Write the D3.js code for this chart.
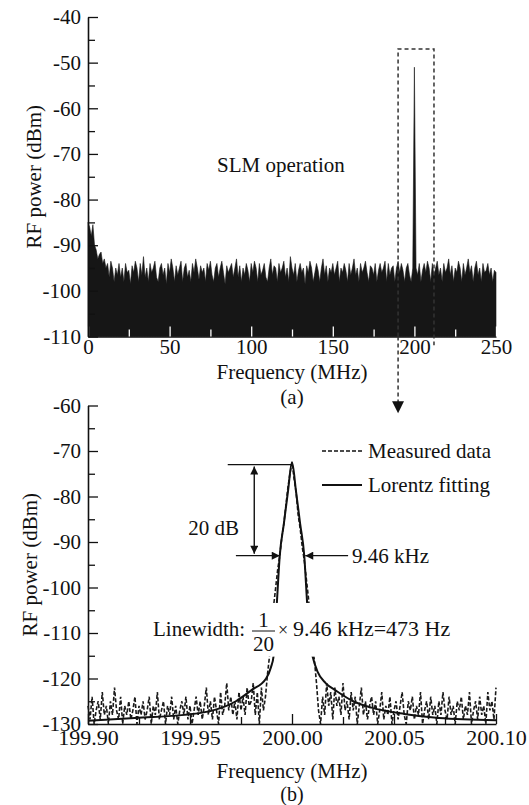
<!DOCTYPE html>
<html>
<head>
<meta charset="utf-8">
<script src="https://cdn.jsdelivr.net/npm/d3@7/dist/d3.min.js"></script>
<style>
body { margin: 0; background: #fff; }
</style>
</head>
<body>
<div id="figure"></div>
<script>
//----------------------------------------------------------------
// (a) spectre large 0-250 MHz, un point par MHz (enveloppe haute)
//----------------------------------------------------------------
var wideStart = 0, wideStep = 1;
var widePower = [
    -85,-86,-88,-85.5,-90,-91,-93,-92,-91.5,-94,
    -93,-95,-94,-97,-93.5,-95,-98,-95,-96.5,-94,
    -97,-95,-98,-94,-96,-95.5,-98.5,-94.5,-96,-93.5,
    -95,-98,-94,-96.5,-92.5,-97,-95,-98,-94,-96,
    -95,-93.5,-97,-98,-95,-94,-96.5,-95,-98.5,-94,
    -96,-93,-95,-98,-94.5,-96.5,-95,-93.5,-98,-95,
    -94,-97,-95.5,-98,-94,-96,-93,-95,-97.5,-94.5,
    -96,-95,-98,-94,-95.5,-93.5,-96.5,-98,-95,-94,
    -97,-95,-93.5,-96,-98.5,-94.5,-96,-95,-94,-97,
    -95,-93,-97,-94.5,-98,-95,-96.5,-94,-95.5,-98,
    -94,-96,-93.5,-95,-98,-94,-96.5,-95.5,-94,-97,
    -98,-95,-93,-96.5,-94.5,-95,-98,-94,-96,-95,
    -93.5,-97,-95,-98,-92.5,-95,-96.5,-94,-98,-95.5,
    -94,-96,-95,-98.5,-94.5,-96,-93.5,-95,-98,-96,
    -94,-95.5,-98,-95,-93,-96.5,-94.5,-98,-95,-96,
    -94,-96.5,-95,-93.5,-98,-95,-96,-94,-95.5,-98,
    -94,-96.5,-95,-93,-96.5,-95,-98,-94,-96,-95,
    -93.5,-96,-98,-94.5,-95,-96.5,-94,-98,-95.5,-94,
    -96,-95,-93.5,-98,-94,-96.5,-95,-94.5,-98,-95,
    -93.5,-96,-94,-95.5,-98,-95,-94,-96.5,-98,-95,
    -51,-95,-96.5,-94,-98,-95.5,-94,-96,-93.5,-95,
    -98,-94,-96.5,-95,-93.5,-96.5,-95,-98,-94,-96,
    -95,-93,-96.5,-94.5,-98,-95,-96,-93.5,-95,-98,
    -94,-96.5,-95,-93,-96,-94.5,-98,-95,-93.5,-96.5,
    -95,-98,-94,-96,-95.5,-94,-96.5,-95,-98,-95.5,
    -96
];
var wideFloor = -110;
var wideXTicks = [0, 50, 100, 150, 200, 250];
var wideXMinor = [25, 75, 125, 175, 225];
var wideYTicks = [-110, -100, -90, -80, -70, -60, -50, -40];
var wideYMinor = [-105, -95, -85, -75, -65, -55, -45];

//----------------------------------------------------------------
// (b) zoom autour de 200 MHz, un point par kHz
//----------------------------------------------------------------
var zoomStart = 199.9, zoomStep = 0.001;
var measuredPower = [
    -126,-129,-124,-130,-127,-125,-129,-123,-128,-126,
    -130,-125,-128,-122,-127,-129,-124,-130,-126,-128,
    -125,-129,-127,-124,-130,-126,-128,-125,-129,-127,
    -124,-130,-126,-128,-123,-129,-127,-125,-130,-126,
    -128,-124,-129,-126,-130,-127,-125,-128,-124,-129,
    -126,-130,-127,-124,-128,-125,-129,-126,-122,-128,
    -125,-129,-124,-127,-130,-123,-128,-126,-121,-127,
    -124,-128,-125,-129,-123,-127,-124,-128,-122,-126,
    -125,-121,-128,-123,-130,-122,-127,-124,-119,-115,
    -110,-104,-100,-96,-93,-89,-86,-82,-78,-75,
    -72.5,-76,-79,-84,-87,-91,-94,-98,-102,-107,
    -113,-116,-121,-127,-130,-124,-128,-121,-126,-123,
    -129,-122,-126,-124,-128,-121,-127,-125,-129,-123,
    -127,-124,-130,-126,-122,-128,-125,-129,-126,-124,
    -128,-125,-130,-127,-123,-129,-126,-128,-124,-130,
    -127,-125,-129,-126,-123,-128,-130,-125,-127,-124,
    -129,-126,-128,-123,-130,-127,-125,-129,-124,-128,
    -126,-130,-125,-128,-123,-127,-129,-124,-128,-126,
    -130,-125,-127,-124,-129,-126,-128,-123,-130,-127,
    -125,-129,-124,-128,-126,-130,-123,-127,-125,-129,
    -122
];
var fitFreq = [199.900, 199.923, 199.956, 199.9725, 199.980, 199.9873, 199.9897, 199.9910,
               199.9925, 199.994, 199.996, 199.998, 200.000, 200.002, 200.004, 200.006,
               200.0075, 200.0090, 200.0100, 200.0125, 200.0165, 200.022, 200.030, 200.039,
               200.055, 200.072, 200.100];
var fitPower = [-129.3, -128.7, -127.5, -125, -122.6, -120, -117.5, -115,
                -104, -93, -86, -79, -72.5, -79, -86, -93,
                -104, -113, -115, -118.5, -121, -122.8, -125, -126.4,
                -127.8, -128.7, -129.2];
var zoomXTicks = [199.90, 199.95, 200.00, 200.05, 200.10];
var zoomXMinor = [199.925, 199.975, 200.025, 200.075];
var zoomYTicks = [-130, -120, -110, -100, -90, -80, -70, -60];
var zoomYMinor = [-125, -115, -105, -95, -85, -75, -65];
var legendLabels = ["Measured data", "Lorentz fitting"];

var ink = "#111";
var serif = "'Liberation Serif', 'Times New Roman', Times, serif";

var svg = d3.select("#figure").append("svg")
    .attr("width", 529)
    .attr("height", 805)
    .style("font-family", serif);

// échelles
var xWide = d3.scaleLinear().domain([0, 250]).range([88, 496]);
var yWide = d3.scaleLinear().domain([-110, -40]).range([336.5, 17]);
var xZoom = d3.scaleLinear().domain([199.9, 200.1]).range([88, 496]);
var yZoom = d3.scaleLinear().domain([-130, -60]).range([724, 405.5]);

// formats avec un tiret simple, comme l'original
var fmtEntier = function(d) { return String(d); };
var fmtMHz = function(d) { return d.toFixed(2); };

// flèches
var defs = svg.append("defs");
defs.append("marker")
    .attr("id", "fleche")
    .attr("viewBox", "0 0 10 10")
    .attr("refX", 10).attr("refY", 5)
    .attr("markerUnits", "userSpaceOnUse")
    .attr("markerWidth", 11).attr("markerHeight", 8)
    .attr("orient", "auto-start-reverse")
    .append("path").attr("d", "M0,0L10,5L0,10z").attr("fill", ink);
defs.append("marker")
    .attr("id", "grosseFleche")
    .attr("viewBox", "0 0 10 10")
    .attr("refX", 10).attr("refY", 5)
    .attr("markerUnits", "userSpaceOnUse")
    .attr("markerWidth", 16).attr("markerHeight", 12)
    .attr("orient", "auto")
    .append("path").attr("d", "M0,0L10,5L0,10z").attr("fill", ink);

//----------------------------------------------------------------
// axes avec graduations vers l'intérieur
//----------------------------------------------------------------
function axeX(x, y, ticks, minor, fmt, size, pad, tickColour) {
    var g = svg.append("g").attr("transform", "translate(0," + y.range()[0] + ")");
    g.call(d3.axisBottom(x).tickValues(ticks).tickSizeInner(-10).tickSizeOuter(0)
        .tickPadding(pad).tickFormat(fmt));
    g.append("g")
        .call(d3.axisBottom(x).tickValues(minor).tickSizeInner(-7).tickSizeOuter(0).tickFormat(""))
        .select(".domain").remove();
    g.attr("font-family", null).attr("font-size", null);
    g.selectAll(".tick line").attr("stroke", tickColour).attr("stroke-width", 1.3);
    g.selectAll(".domain").attr("stroke", ink).attr("stroke-width", 1.6);
    g.selectAll("text").style("font-size", size + "px").attr("fill", ink);
}

function axeY(x, y, ticks, minor) {
    var g = svg.append("g").attr("transform", "translate(" + x.range()[0] + ",0)");
    g.call(d3.axisLeft(y).tickValues(ticks).tickSizeInner(-10).tickSizeOuter(0)
        .tickPadding(7).tickFormat(fmtEntier));
    g.append("g")
        .call(d3.axisLeft(y).tickValues(minor).tickSizeInner(-7).tickSizeOuter(0).tickFormat(""))
        .select(".domain").remove();
    g.attr("font-family", null).attr("font-size", null);
    g.selectAll(".tick line").attr("stroke", ink).attr("stroke-width", 1.3);
    g.selectAll(".domain").attr("stroke", ink).attr("stroke-width", 1.6);
    g.selectAll("text").style("font-size", "21px").attr("fill", ink);
}

function texte(x, y, s, anchor, size) {
    return svg.append("text")
        .attr("x", x).attr("y", y)
        .attr("text-anchor", anchor || "middle")
        .attr("fill", ink)
        .style("font-size", (size || 21) + "px")
        .text(s);
}

//----------------------------------------------------------------
// graphique (a)
//----------------------------------------------------------------
var wideData = widePower.map(function(p, i) { return {f: wideStart + i * wideStep, p: p}; });

svg.append("path")
    .datum(wideData)
    .attr("d", d3.area()
        .x(function(d) { return xWide(d.f); })
        .y0(yWide(wideFloor))
        .y1(function(d) { return yWide(d.p); }))
    .attr("fill", "#161616")
    .attr("stroke", "#161616")
    .attr("stroke-width", 0.6);

axeX(xWide, yWide, wideXTicks, wideXMinor, fmtEntier, 21, 3, "#fff");
axeY(xWide, yWide, wideYTicks, wideYMinor);

// cadre pointillé autour du pic + flèche vers (b)
svg.append("path")
    .attr("d", "M" + xWide(190) + "," + yWide(-110) +
               "V" + yWide(-47) + "H" + xWide(212) + "V" + yWide(-111.9))
    .attr("fill", "none")
    .attr("stroke", "#333")
    .attr("stroke-width", 1.5)
    .attr("stroke-dasharray", "4,3");
svg.append("line")
    .attr("x1", xWide(190)).attr("y1", yWide(-110))
    .attr("x2", xWide(190)).attr("y2", yWide(-126.8))
    .attr("stroke", "#333")
    .attr("stroke-width", 1.5)
    .attr("stroke-dasharray", "4,3")
    .attr("marker-end", "url(#grosseFleche)");

texte(217, 172, "SLM operation", "start");
texte(292, 379, "Frequency (MHz)");
texte(292, 404, "(a)");
svg.append("text")
    .attr("transform", "translate(41," + (yWide(-75)) + ") rotate(-90)")
    .attr("text-anchor", "middle")
    .attr("fill", ink)
    .style("font-size", "21px")
    .text("RF power (dBm)");

//----------------------------------------------------------------
// graphique (b)
//----------------------------------------------------------------
axeX(xZoom, yZoom, zoomXTicks, zoomXMinor, fmtMHz, 22, 5, ink);
axeY(xZoom, yZoom, zoomYTicks, zoomYMinor);

var measuredData = measuredPower.map(function(p, i) { return {f: zoomStart + i * zoomStep, p: p}; });
var fitData = fitFreq.map(function(f, i) { return {f: f, p: fitPower[i]}; });

var ligne = d3.line()
    .x(function(d) { return xZoom(d.f); })
    .y(function(d) { return yZoom(d.p); });

svg.append("path")
    .datum(measuredData)
    .attr("d", ligne)
    .attr("fill", "none")
    .attr("stroke", "#1a1a1a")
    .attr("stroke-width", 1.6)
    .attr("stroke-dasharray", "4,2");

svg.append("path")
    .datum(fitData)
    .attr("d", ligne.curve(d3.curveMonotoneX))
    .attr("fill", "none")
    .attr("stroke", ink)
    .attr("stroke-width", 2);

// fond blanc derrière la formule
svg.append("rect")
    .attr("x", 150).attr("y", yZoom(-103.4))
    .attr("width", 306).attr("height", yZoom(-115.2) - yZoom(-103.4))
    .attr("fill", "#fff");

texte(153, 636, "Linewidth:", "start");
texte(263.5, 627, "1");
svg.append("line")
    .attr("x1", 252).attr("x2", 275)
    .attr("y1", 631).attr("y2", 631)
    .attr("stroke", ink).attr("stroke-width", 1);
texte(263.5, 651, "20");
texte(283, 636, "\u00d7", "middle", 18);
texte(293, 636, "9.46 kHz=473 Hz", "start", 22);

// légende
var legend = svg.selectAll(".legend")
    .data(legendLabels)
    .enter().append("g")
    .attr("class", "legend")
    .attr("transform", function(d, i) { return "translate(0," + (yZoom(-70) + i * 34) + ")"; });

legend.append("line")
    .attr("x1", 322).attr("x2", 362)
    .attr("stroke", ink)
    .attr("stroke-width", function(d, i) { return i === 0 ? 1.4 : 1.8; })
    .attr("stroke-dasharray", function(d, i) { return i === 0 ? "4,2" : null; });

legend.append("text")
    .attr("x", 368)
    .attr("dy", "0.33em")
    .attr("fill", ink)
    .style("font-size", "21px")
    .text(function(d) { return d; });

// annotations 20 dB et largeur
function trait(x1, y1, x2, y2, debut, fin) {
    var l = svg.append("line")
        .attr("x1", xZoom(x1)).attr("y1", yZoom(y1))
        .attr("x2", xZoom(x2)).attr("y2", yZoom(y2))
        .attr("stroke", ink).attr("stroke-width", 1.4);
    if (debut) l.attr("marker-start", "url(#fleche)");
    if (fin) l.attr("marker-end", "url(#fleche)");
}
trait(199.9685, -73, 200.000, -73);
trait(199.9815, -73.4, 199.9815, -92.6, true, true);
trait(199.9725, -93, 199.994, -93, false, true);
trait(200.0275, -93, 200.0065, -93, false, true);

texte(239, yZoom(-87), "20 dB", "end").attr("dy", "0.33em");
texte(352, yZoom(-93), "9.46 kHz", "start").attr("dy", "0.33em");

texte(292, 778, "Frequency (MHz)");
texte(292, 801, "(b)", "middle", 20);
svg.append("text")
    .attr("transform", "translate(37," + (yZoom(-95)) + ") rotate(-90)")
    .attr("text-anchor", "middle")
    .attr("fill", ink)
    .style("font-size", "21px")
    .text("RF power (dBm)");

// police serif partout
svg.selectAll("text").style("font-family", serif);
</script>
</body>
</html>
